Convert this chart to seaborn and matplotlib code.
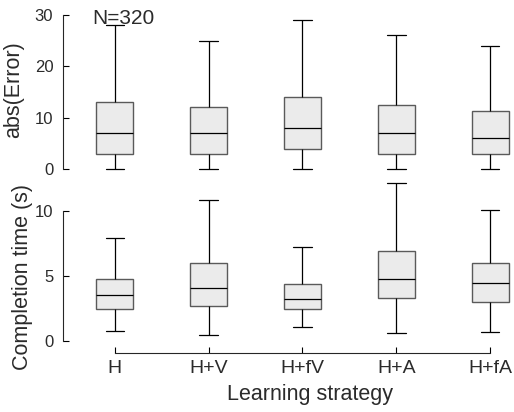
import matplotlib
matplotlib.use("Agg")
import matplotlib.pyplot as plt
import numpy as np
import pandas as pd
import seaborn as sns

strategies = ['H', 'H+V', 'H+fV', 'H+A', 'H+fA']

# five-number summaries: min, q1, median, q3, max
err_min = [0, 0, 0, 0, 0]
err_q1 = [3, 3, 4, 3, 3]
err_med = [7, 7, 8, 7, 6]
err_q3 = [13, 12, 14, 12.4, 11.4]
err_max = [28, 25, 29, 26, 24]

time_min = [0.77, 0.46, 1.1, 0.61, 0.69]
time_q1 = [2.48, 2.69, 2.46, 3.33, 3.02]
time_med = [3.54, 4.08, 3.25, 4.77, 4.46]
time_q3 = [4.77, 6.0, 4.38, 6.92, 6.0]
time_max = [7.92, 10.9, 7.28, 12.15, 10.08]


def summary_frame(mins, q1s, meds, q3s, maxs):
    # five points per group reproduce the quartiles exactly with linear percentiles
    rows = []
    for s, a, b, c, d, e in zip(strategies, mins, q1s, meds, q3s, maxs):
        for v in (a, b, c, d, e):
            rows.append({'strategy': s, 'value': v})
    return pd.DataFrame(rows)


df_err = summary_frame(err_min, err_q1, err_med, err_q3, err_max)
df_time = summary_frame(time_min, time_q1, time_med, time_q3, time_max)

sns.set_style('ticks')
plt.rcParams['font.family'] = ['Liberation Sans', 'DejaVu Sans']
plt.rcParams['text.color'] = '#2b2b2b'
plt.rcParams['axes.labelcolor'] = '#2b2b2b'
plt.rcParams['xtick.color'] = 'black'
plt.rcParams['ytick.color'] = 'black'
plt.rcParams['xtick.labelcolor'] = '#2b2b2b'
plt.rcParams['ytick.labelcolor'] = '#2b2b2b'

fig = plt.figure(figsize=(5.14, 4.12), dpi=100)
ax1 = fig.add_axes([0.1226, 0.577, 0.877, 0.393])
ax2 = fig.add_axes([0.1226, 0.1432, 0.877, 0.4228])

box_kws = dict(
    color='#ebebeb', linecolor='black', linewidth=0.9, width=0.39,
    whis=(0, 100), showfliers=False,
    boxprops=dict(edgecolor='#5a5a5a', linewidth=1.0),
)

sns.boxplot(data=df_err, x='strategy', y='value', order=strategies, ax=ax1, **box_kws)
sns.boxplot(data=df_time, x='strategy', y='value', order=strategies, ax=ax2, **box_kws)

for ax in (ax1, ax2):
    ax.set_xlim(-0.55, 4.25)
    ax.spines['top'].set_visible(False)
    ax.spines['right'].set_visible(False)
    ax.spines['left'].set_linewidth(0.8)
    ax.spines['bottom'].set_linewidth(0.8)
    ax.tick_params(axis='y', direction='in', length=4.3, width=0.8, labelsize=12, pad=7)
    ax.tick_params(axis='x', direction='in', length=4.3, width=0.8, labelsize=14, pad=5)

# top panel
ax1.set_ylim(-1, 30.5)
ax1.set_yticks([0, 10, 20, 30])
ax1.spines['left'].set_bounds(0, 30)
ax1.spines['bottom'].set_visible(False)
ax1.set_xticks([])
ax1.set_xlabel('')
ax1.set_ylabel('abs(Error)', fontsize=15.5)
ax1.yaxis.set_label_coords(-0.0865, 0.523)
ax1.text(0.096, 28.3, 'N=320', ha='center', va='baseline', fontsize=15)

# bottom panel
ax2.set_ylim(-0.9, 12.5)
ax2.set_yticks([0, 5, 10])
ax2.spines['left'].set_bounds(0, 10)
ax2.spines['bottom'].set_bounds(0, 4)
ax2.set_ylabel('Completion time (s)', fontsize=15.5)
ax2.yaxis.set_label_coords(-0.066, 0.439)
ax2.set_xlabel('Learning strategy', fontsize=15.5)
ax2.xaxis.set_label_coords(0.548, -0.18)

plt.savefig('out.png', dpi=100)
